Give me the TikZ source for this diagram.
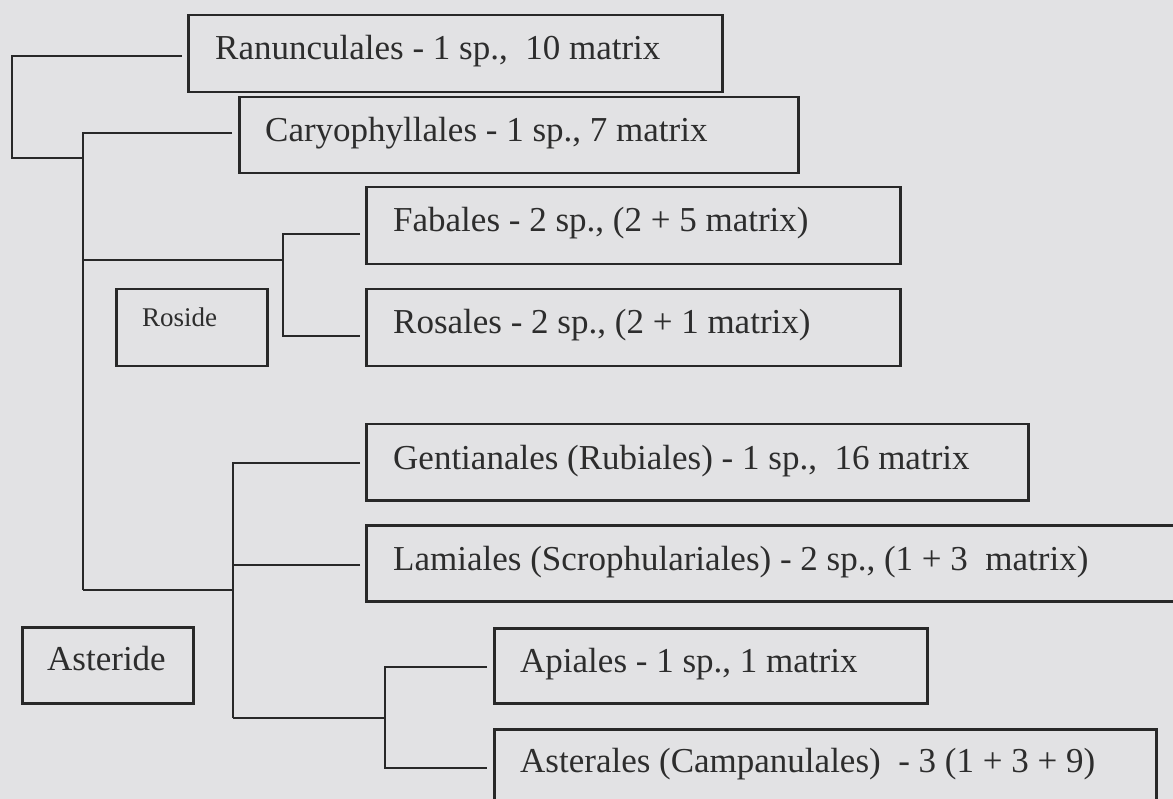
\documentclass[tikz,border=0pt]{standalone}
\usepackage{fontspec}
\setmainfont{Liberation Serif}
\definecolor{bg}{RGB}{226,226,228}
\definecolor{ink}{RGB}{40,40,40}
\definecolor{txt}{RGB}{45,45,45}
\begin{document}
\begin{tikzpicture}[x=1pt,y=-1pt,
  box/.style={draw=ink,line width=2.5pt,rectangle,anchor=north west,inner sep=0pt},
  lbl/.style={anchor=base west,inner sep=0pt,text=txt,font=\fontsize{35pt}{42pt}\selectfont},
  small/.style={anchor=base west,inner sep=0pt,text=txt,font=\fontsize{27pt}{32pt}\selectfont},
  conn/.style={draw=ink,line width=2.5pt,line join=miter}]
\useasboundingbox (0,0) rectangle (1173,799);
\fill[bg] (0,0) rectangle (1173,799);
\clip (0,0) rectangle (1173,799);

% boxes
\node[box,minimum width=534pt,minimum height=77pt] (ranB) at (187,14) {};
\node[box,minimum width=559pt,minimum height=76pt] (carB) at (238,96) {};
\node[box,minimum width=534pt,minimum height=77pt] (fabB) at (365,186) {};
\node[box,minimum width=534pt,minimum height=77pt] (rosB) at (365,288) {};
\node[box,minimum width=151pt,minimum height=77pt] (rosiB) at (115,288) {};
\node[box,minimum width=662pt,minimum height=76pt] (genB) at (365,423) {};
\node[box,minimum width=840pt,minimum height=76pt] (lamB) at (365,524) {};
\node[box,minimum width=433pt,minimum height=75pt] (apiB) at (493,627) {};
\node[box,minimum width=662pt,minimum height=77pt] (astB) at (493,728) {};
\node[box,minimum width=171pt,minimum height=76pt] (asteB) at (21,626) {};

% labels
\node[lbl] (ranT) at (215,60) {Ranunculales - 1 sp.,\ \ 10 matrix};
\node[lbl] (carT) at (265,142) {Caryophyllales - 1 sp., 7 matrix};
\node[lbl] (fabT) at (393,232) {Fabales - 2 sp., (2 + 5 matrix)};
\node[lbl] (rosT) at (393,334) {Rosales - 2 sp., (2 + 1 matrix)};
\node[small] (rosiT) at (142,327) {Roside};
\node[lbl] (genT) at (393,469) {Gentianales (Rubiales) - 1 sp.,\ \ 16 matrix};
\node[lbl] (lamT) at (393,570) {Lamiales (Scrophulariales) - 2 sp., (1 + 3\ \ matrix)};
\node[lbl] (apiT) at (520,672) {Apiales - 1 sp., 1 matrix};
\node[lbl] (astT) at (520,772) {Asterales (Campanulales)\ \ - 3 (1 + 3 + 9)};
\node[lbl] (asteT) at (47,670) {Asteride};

% connector end points and junctions
\coordinate (ranIn) at (182,56);
\coordinate (root) at (12,158);
\coordinate (n1) at (83,158);
\coordinate (carIn) at (232,133);
\coordinate (n2) at (83,260);
\coordinate (n3) at (83,590);
\coordinate (rosidJ) at (283,260);
\coordinate (fabIn) at (360,234);
\coordinate (rosIn) at (360,336);
\coordinate (asterJ) at (233,590);
\coordinate (genIn) at (360,463);
\coordinate (lamIn) at (360,565);
\coordinate (astJ0) at (233,718);
\coordinate (astJ) at (385,718);
\coordinate (apiIn) at (487,667);
\coordinate (astIn) at (487,768);

% connectors
\draw[conn] (ranIn) -| (root) -- (n1);
\draw[conn] (carIn) -| (n3);
\draw[conn] (n2) -- (rosidJ);
\draw[conn] (fabIn) -| (rosidJ) |- (rosIn);
\draw[conn] (n3) -- (asterJ);
\draw[conn] (genIn) -| (asterJ) -- (astJ0);
\draw[conn] (lamIn) -- (lamIn -| asterJ);
\draw[conn] (astJ0) -- (astJ);
\draw[conn] (apiIn) -| (astJ) |- (astIn);
\end{tikzpicture}
\end{document}
